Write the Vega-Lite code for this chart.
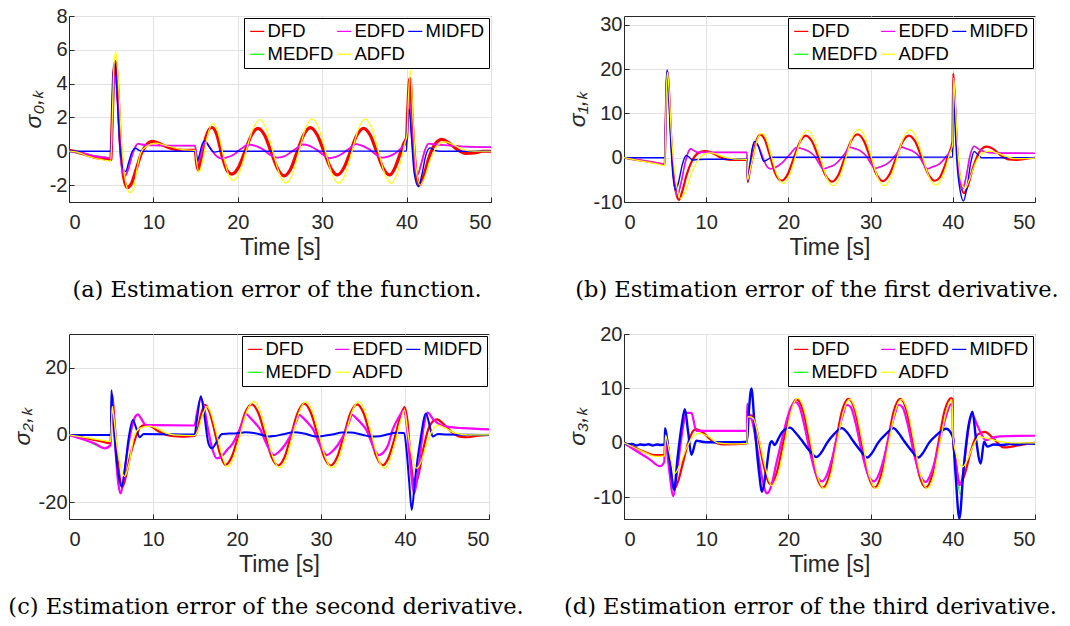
{
"$schema": "https://vega.github.io/schema/vega-lite/v6.json",
"padding": {"left": 7, "top": 5, "right": 5, "bottom": 5},
"background": "white",
"config": {
  "view": {"stroke": "#262626", "strokeWidth": 1},
  "axis": {"grid": true, "gridColor": "#e2e2e2", "domainColor": "#262626", "tickColor": "#262626", "tickSize": -5, "labelFont": "Liberation Sans", "labelFontSize": 20, "labelColor": "#262626", "titleFont": "Liberation Sans", "titleFontSize": 23, "titleFontWeight": "normal", "titleColor": "#262626", "labelExpr": "replace(datum.label, '−', '-')"},
  "axisX": {"labelPadding": 15, "titlePadding": 4},
  "axisY": {"labelPadding": 7, "titlePadding": 4, "titleFontStyle": "italic"},
  "legend": {"orient": "top-right", "offset": 2, "columns": 3, "strokeColor": "#000000", "fillColor": "white", "padding": 4, "symbolType": "stroke", "symbolSize": 200, "symbolStrokeWidth": 1.2, "labelFont": "Liberation Sans", "labelFontSize": 18.5, "labelColor": "#000000", "labelOffset": 1, "columnPadding": 0, "rowPadding": 4, "cornerRadius": 0},
  "title": {"font": "DejaVu Serif", "fontSize": 22.5, "fontWeight": "normal", "color": "#000000", "orient": "bottom", "anchor": "middle", "frame": "group", "offset": 20}
},
"datasets": {
"a": [
{"s":"DFD","t":0,"v":0.05},{"s":"DFD","t":1,"v":-0.05},{"s":"DFD","t":2,"v":-0.2},{"s":"DFD","t":3,"v":-0.35},{"s":"DFD","t":4,"v":-0.42},{"s":"DFD","t":4.95,"v":-0.5},{"s":"DFD","t":5.1,"v":1.5},{"s":"DFD","t":5.3,"v":4.6},{"s":"DFD","t":5.5,"v":5.3},{"s":"DFD","t":5.75,"v":4.0},{"s":"DFD","t":6.1,"v":0.5},{"s":"DFD","t":6.5,"v":-1.6},{"s":"DFD","t":6.9,"v":-2.15},{"s":"DFD","t":7.4,"v":-1.9},{"s":"DFD","t":8.0,"v":-1.0},{"s":"DFD","t":8.6,"v":-0.1},{"s":"DFD","t":9.2,"v":0.4},{"s":"DFD","t":9.8,"v":0.58},{"s":"DFD","t":10.5,"v":0.5},{"s":"DFD","t":11.5,"v":0.28},{"s":"DFD","t":12.5,"v":0.12},{"s":"DFD","t":13.5,"v":0.05},{"s":"DFD","t":14.95,"v":0.05},{"s":"DFD","t":15.1,"v":-0.6},{"s":"DFD","t":15.3,"v":-1.1},{"s":"DFD","t":15.6,"v":-0.6},{"s":"DFD","t":16.2,"v":0.8},{"s":"DFD","t":16.9,"v":1.42},{"s":"DFD","t":17.5,"v":1.0},{"s":"DFD","t":18.2,"v":-0.4},{"s":"DFD","t":18.8,"v":-1.2},{"s":"DFD","t":19.3,"v":-1.35},{"s":"DFD","t":20.08,"v":-0.95},{"s":"DFD","t":20.85,"v":0},{"s":"DFD","t":21.62,"v":0.95},{"s":"DFD","t":22.4,"v":1.36},{"s":"DFD","t":23.18,"v":0.95},{"s":"DFD","t":23.95,"v":-0.05},{"s":"DFD","t":24.72,"v":-1.03},{"s":"DFD","t":25.5,"v":-1.45},{"s":"DFD","t":26.28,"v":-1.03},{"s":"DFD","t":27.05,"v":0},{"s":"DFD","t":27.82,"v":0.98},{"s":"DFD","t":28.6,"v":1.4},{"s":"DFD","t":29.4,"v":0.98},{"s":"DFD","t":30.2,"v":0},{"s":"DFD","t":31.0,"v":-0.98},{"s":"DFD","t":31.8,"v":-1.4},{"s":"DFD","t":32.58,"v":-0.98},{"s":"DFD","t":33.35,"v":0},{"s":"DFD","t":34.12,"v":0.96},{"s":"DFD","t":34.9,"v":1.36},{"s":"DFD","t":35.68,"v":0.96},{"s":"DFD","t":36.45,"v":-0.02},{"s":"DFD","t":37.22,"v":-1.0},{"s":"DFD","t":38.0,"v":-1.4},{"s":"DFD","t":38.6,"v":-1.0},{"s":"DFD","t":39.2,"v":-0.2},{"s":"DFD","t":39.7,"v":0.5},{"s":"DFD","t":40.0,"v":0.8},{"s":"DFD","t":40.1,"v":2.0},{"s":"DFD","t":40.4,"v":4.3},{"s":"DFD","t":40.7,"v":1.5},{"s":"DFD","t":41.1,"v":-1.2},{"s":"DFD","t":41.5,"v":-2.0},{"s":"DFD","t":42.0,"v":-1.5},{"s":"DFD","t":42.7,"v":-0.3},{"s":"DFD","t":43.4,"v":0.45},{"s":"DFD","t":44.2,"v":0.7},{"s":"DFD","t":45.0,"v":0.5},{"s":"DFD","t":46.0,"v":0.1},{"s":"DFD","t":47.0,"v":-0.12},{"s":"DFD","t":48.0,"v":-0.1},{"s":"DFD","t":49.0,"v":0},{"s":"DFD","t":50,"v":0},
{"s":"MEDFD","t":0,"v":0},{"s":"MEDFD","t":2,"v":-0.17},{"s":"MEDFD","t":4,"v":-0.33},{"s":"MEDFD","t":4.95,"v":-0.38},{"s":"MEDFD","t":5.1,"v":1.2},{"s":"MEDFD","t":5.3,"v":3.8},{"s":"MEDFD","t":5.5,"v":4.5},{"s":"MEDFD","t":5.75,"v":3.0},{"s":"MEDFD","t":6.1,"v":-0.3},{"s":"MEDFD","t":6.6,"v":-1.45},{"s":"MEDFD","t":7.0,"v":-1.1},{"s":"MEDFD","t":7.5,"v":-0.2},{"s":"MEDFD","t":7.9,"v":0.3},{"s":"MEDFD","t":8.2,"v":0.44},{"s":"MEDFD","t":8.6,"v":0.39},{"s":"MEDFD","t":10,"v":0.34},{"s":"MEDFD","t":14.95,"v":0.32},{"s":"MEDFD","t":15.1,"v":-0.3},{"s":"MEDFD","t":15.25,"v":-0.7},{"s":"MEDFD","t":15.5,"v":-0.4},{"s":"MEDFD","t":15.9,"v":0.3},{"s":"MEDFD","t":16.2,"v":0.54},{"s":"MEDFD","t":16.6,"v":0.3},{"s":"MEDFD","t":17.3,"v":-0.2},{"s":"MEDFD","t":18.0,"v":-0.42},{"s":"MEDFD","t":18.6,"v":-0.38},{"s":"MEDFD","t":19.5,"v":-0.2},{"s":"MEDFD","t":20.4,"v":0.15},{"s":"MEDFD","t":21.3,"v":0.4},{"s":"MEDFD","t":22.2,"v":0.3},{"s":"MEDFD","t":23.0,"v":0.1},{"s":"MEDFD","t":23.8,"v":-0.2},{"s":"MEDFD","t":24.6,"v":-0.38},{"s":"MEDFD","t":25.5,"v":-0.3},{"s":"MEDFD","t":26.3,"v":-0.05},{"s":"MEDFD","t":27.0,"v":0.2},{"s":"MEDFD","t":27.7,"v":0.4},{"s":"MEDFD","t":28.5,"v":0.32},{"s":"MEDFD","t":29.3,"v":0.1},{"s":"MEDFD","t":30.1,"v":-0.2},{"s":"MEDFD","t":30.9,"v":-0.4},{"s":"MEDFD","t":31.7,"v":-0.32},{"s":"MEDFD","t":32.5,"v":-0.1},{"s":"MEDFD","t":33.3,"v":0.2},{"s":"MEDFD","t":34.0,"v":0.42},{"s":"MEDFD","t":34.8,"v":0.32},{"s":"MEDFD","t":35.6,"v":0.1},{"s":"MEDFD","t":36.4,"v":-0.2},{"s":"MEDFD","t":37.1,"v":-0.38},{"s":"MEDFD","t":37.9,"v":-0.3},{"s":"MEDFD","t":38.7,"v":-0.1},{"s":"MEDFD","t":39.4,"v":0.2},{"s":"MEDFD","t":39.95,"v":0.5},{"s":"MEDFD","t":40.1,"v":1.2},{"s":"MEDFD","t":40.3,"v":3.2},{"s":"MEDFD","t":40.55,"v":1.5},{"s":"MEDFD","t":40.9,"v":-0.8},{"s":"MEDFD","t":41.3,"v":-1.35},{"s":"MEDFD","t":41.7,"v":-0.8},{"s":"MEDFD","t":42.2,"v":0.1},{"s":"MEDFD","t":42.6,"v":0.44},{"s":"MEDFD","t":43.5,"v":0.4},{"s":"MEDFD","t":45,"v":0.34},{"s":"MEDFD","t":47,"v":0.27},{"s":"MEDFD","t":50,"v":0.24},
{"s":"EDFD","t":0,"v":0},{"s":"EDFD","t":1,"v":-0.05},{"s":"EDFD","t":2,"v":-0.15},{"s":"EDFD","t":3,"v":-0.28},{"s":"EDFD","t":4,"v":-0.35},{"s":"EDFD","t":4.95,"v":-0.4},{"s":"EDFD","t":5.1,"v":1.2},{"s":"EDFD","t":5.3,"v":3.8},{"s":"EDFD","t":5.5,"v":4.5},{"s":"EDFD","t":5.75,"v":3.0},{"s":"EDFD","t":6.1,"v":-0.3},{"s":"EDFD","t":6.6,"v":-1.5},{"s":"EDFD","t":7.0,"v":-1.1},{"s":"EDFD","t":7.5,"v":-0.2},{"s":"EDFD","t":7.9,"v":0.3},{"s":"EDFD","t":8.2,"v":0.45},{"s":"EDFD","t":8.6,"v":0.4},{"s":"EDFD","t":10,"v":0.35},{"s":"EDFD","t":12,"v":0.33},{"s":"EDFD","t":14.95,"v":0.33},{"s":"EDFD","t":15.1,"v":-0.3},{"s":"EDFD","t":15.25,"v":-0.7},{"s":"EDFD","t":15.5,"v":-0.4},{"s":"EDFD","t":15.9,"v":0.3},{"s":"EDFD","t":16.2,"v":0.55},{"s":"EDFD","t":16.6,"v":0.3},{"s":"EDFD","t":17.3,"v":-0.2},{"s":"EDFD","t":18.0,"v":-0.42},{"s":"EDFD","t":18.6,"v":-0.38},{"s":"EDFD","t":19.5,"v":-0.2},{"s":"EDFD","t":20.4,"v":0.15},{"s":"EDFD","t":21.3,"v":0.4},{"s":"EDFD","t":22.2,"v":0.3},{"s":"EDFD","t":23.0,"v":0.1},{"s":"EDFD","t":23.8,"v":-0.2},{"s":"EDFD","t":24.6,"v":-0.38},{"s":"EDFD","t":25.5,"v":-0.3},{"s":"EDFD","t":26.3,"v":-0.05},{"s":"EDFD","t":27.0,"v":0.2},{"s":"EDFD","t":27.7,"v":0.4},{"s":"EDFD","t":28.5,"v":0.32},{"s":"EDFD","t":29.3,"v":0.1},{"s":"EDFD","t":30.1,"v":-0.2},{"s":"EDFD","t":30.9,"v":-0.4},{"s":"EDFD","t":31.7,"v":-0.32},{"s":"EDFD","t":32.5,"v":-0.1},{"s":"EDFD","t":33.3,"v":0.2},{"s":"EDFD","t":34.0,"v":0.42},{"s":"EDFD","t":34.8,"v":0.32},{"s":"EDFD","t":35.6,"v":0.1},{"s":"EDFD","t":36.4,"v":-0.2},{"s":"EDFD","t":37.1,"v":-0.38},{"s":"EDFD","t":37.9,"v":-0.3},{"s":"EDFD","t":38.7,"v":-0.1},{"s":"EDFD","t":39.4,"v":0.2},{"s":"EDFD","t":39.95,"v":0.5},{"s":"EDFD","t":40.1,"v":1.2},{"s":"EDFD","t":40.3,"v":3.3},{"s":"EDFD","t":40.55,"v":1.5},{"s":"EDFD","t":40.9,"v":-0.8},{"s":"EDFD","t":41.3,"v":-1.4},{"s":"EDFD","t":41.7,"v":-0.8},{"s":"EDFD","t":42.2,"v":0.1},{"s":"EDFD","t":42.6,"v":0.45},{"s":"EDFD","t":43.5,"v":0.4},{"s":"EDFD","t":45,"v":0.35},{"s":"EDFD","t":47,"v":0.28},{"s":"EDFD","t":50,"v":0.25},
{"s":"MIDFD","t":0,"v":0},{"s":"MIDFD","t":4.98,"v":0},{"s":"MIDFD","t":5.1,"v":2.5},{"s":"MIDFD","t":5.3,"v":4.9},{"s":"MIDFD","t":5.45,"v":5.2},{"s":"MIDFD","t":5.65,"v":3.8},{"s":"MIDFD","t":6.0,"v":0.5},{"s":"MIDFD","t":6.4,"v":-1.0},{"s":"MIDFD","t":6.7,"v":-1.2},{"s":"MIDFD","t":7.1,"v":-0.6},{"s":"MIDFD","t":7.5,"v":0},{"s":"MIDFD","t":7.9,"v":0.18},{"s":"MIDFD","t":8.3,"v":0.05},{"s":"MIDFD","t":8.8,"v":0},{"s":"MIDFD","t":14.98,"v":0},{"s":"MIDFD","t":15.1,"v":-0.3},{"s":"MIDFD","t":15.2,"v":-0.6},{"s":"MIDFD","t":15.4,"v":-0.3},{"s":"MIDFD","t":15.8,"v":0.45},{"s":"MIDFD","t":16.1,"v":0.62},{"s":"MIDFD","t":16.5,"v":0.35},{"s":"MIDFD","t":17.0,"v":0},{"s":"MIDFD","t":17.3,"v":-0.05},{"s":"MIDFD","t":17.8,"v":0},{"s":"MIDFD","t":39.98,"v":0.02},{"s":"MIDFD","t":40.1,"v":1.5},{"s":"MIDFD","t":40.3,"v":2.5},{"s":"MIDFD","t":40.55,"v":1.0},{"s":"MIDFD","t":40.9,"v":-1.3},{"s":"MIDFD","t":41.4,"v":-2.1},{"s":"MIDFD","t":41.8,"v":-1.4},{"s":"MIDFD","t":42.3,"v":-0.2},{"s":"MIDFD","t":42.8,"v":0.2},{"s":"MIDFD","t":43.3,"v":0.05},{"s":"MIDFD","t":44,"v":0},{"s":"MIDFD","t":50,"v":0},
{"s":"ADFD","t":0,"v":0},{"s":"ADFD","t":1,"v":-0.05},{"s":"ADFD","t":2,"v":-0.25},{"s":"ADFD","t":3,"v":-0.4},{"s":"ADFD","t":4,"v":-0.5},{"s":"ADFD","t":4.95,"v":-0.58},{"s":"ADFD","t":5.1,"v":1.5},{"s":"ADFD","t":5.3,"v":4.8},{"s":"ADFD","t":5.55,"v":5.9},{"s":"ADFD","t":5.8,"v":4.5},{"s":"ADFD","t":6.2,"v":0.8},{"s":"ADFD","t":6.7,"v":-1.8},{"s":"ADFD","t":7.2,"v":-2.45},{"s":"ADFD","t":7.7,"v":-2.1},{"s":"ADFD","t":8.0,"v":-1.2},{"s":"ADFD","t":8.5,"v":-0.1},{"s":"ADFD","t":9.2,"v":0.3},{"s":"ADFD","t":10.3,"v":0.48},{"s":"ADFD","t":11.2,"v":0.38},{"s":"ADFD","t":11.9,"v":0.28},{"s":"ADFD","t":13.4,"v":0.1},{"s":"ADFD","t":14.95,"v":0.05},{"s":"ADFD","t":15.1,"v":-0.5},{"s":"ADFD","t":15.4,"v":-1.25},{"s":"ADFD","t":15.8,"v":-0.6},{"s":"ADFD","t":16.4,"v":0.9},{"s":"ADFD","t":17.0,"v":1.65},{"s":"ADFD","t":17.6,"v":1.2},{"s":"ADFD","t":18.4,"v":-0.5},{"s":"ADFD","t":19.0,"v":-1.5},{"s":"ADFD","t":19.45,"v":-1.72},{"s":"ADFD","t":20.24,"v":-1.2},{"s":"ADFD","t":21.02,"v":0.08},{"s":"ADFD","t":21.81,"v":1.33},{"s":"ADFD","t":22.6,"v":1.88},{"s":"ADFD","t":23.38,"v":1.33},{"s":"ADFD","t":24.15,"v":0},{"s":"ADFD","t":24.93,"v":-1.33},{"s":"ADFD","t":25.7,"v":-1.88},{"s":"ADFD","t":26.48,"v":-1.33},{"s":"ADFD","t":27.25,"v":0.02},{"s":"ADFD","t":28.03,"v":1.36},{"s":"ADFD","t":28.8,"v":1.92},{"s":"ADFD","t":29.59,"v":1.36},{"s":"ADFD","t":30.38,"v":0},{"s":"ADFD","t":31.16,"v":-1.35},{"s":"ADFD","t":31.95,"v":-1.9},{"s":"ADFD","t":32.74,"v":-1.35},{"s":"ADFD","t":33.53,"v":0},{"s":"ADFD","t":34.31,"v":1.35},{"s":"ADFD","t":35.1,"v":1.9},{"s":"ADFD","t":35.88,"v":1.35},{"s":"ADFD","t":36.65,"v":0},{"s":"ADFD","t":37.43,"v":-1.35},{"s":"ADFD","t":38.2,"v":-1.9},{"s":"ADFD","t":38.8,"v":-1.4},{"s":"ADFD","t":39.4,"v":-0.4},{"s":"ADFD","t":39.8,"v":0.5},{"s":"ADFD","t":40.05,"v":1.0},{"s":"ADFD","t":40.2,"v":3.0},{"s":"ADFD","t":40.45,"v":4.8},{"s":"ADFD","t":40.75,"v":2.0},{"s":"ADFD","t":41.1,"v":-0.9},{"s":"ADFD","t":41.6,"v":-2.0},{"s":"ADFD","t":42.1,"v":-1.6},{"s":"ADFD","t":42.8,"v":-0.5},{"s":"ADFD","t":43.6,"v":0.3},{"s":"ADFD","t":44.6,"v":0.55},{"s":"ADFD","t":45.5,"v":0.4},{"s":"ADFD","t":46.5,"v":0.15},{"s":"ADFD","t":48,"v":0},{"s":"ADFD","t":50,"v":0}
],
"b": [
{"s":"DFD","t":0,"v":0},{"s":"DFD","t":1,"v":-0.3},{"s":"DFD","t":2,"v":-0.6},{"s":"DFD","t":3,"v":-0.9},{"s":"DFD","t":4,"v":-1.2},{"s":"DFD","t":4.95,"v":-1.5},{"s":"DFD","t":5.05,"v":6},{"s":"DFD","t":5.15,"v":15},{"s":"DFD","t":5.3,"v":19.5},{"s":"DFD","t":5.45,"v":16},{"s":"DFD","t":5.7,"v":6},{"s":"DFD","t":6.0,"v":-3},{"s":"DFD","t":6.35,"v":-8},{"s":"DFD","t":6.7,"v":-9.5},{"s":"DFD","t":7.1,"v":-7.5},{"s":"DFD","t":7.6,"v":-4},{"s":"DFD","t":8.2,"v":-1.0},{"s":"DFD","t":9.0,"v":1.0},{"s":"DFD","t":9.8,"v":1.5},{"s":"DFD","t":10.6,"v":1.2},{"s":"DFD","t":11.5,"v":0.3},{"s":"DFD","t":12.3,"v":-0.3},{"s":"DFD","t":13.5,"v":-0.5},{"s":"DFD","t":14.95,"v":-0.5},{"s":"DFD","t":15.05,"v":-5.5},{"s":"DFD","t":15.3,"v":-3},{"s":"DFD","t":15.7,"v":0.5},{"s":"DFD","t":16.1,"v":3.8},{"s":"DFD","t":16.6,"v":5.2},{"s":"DFD","t":17.1,"v":4.2},{"s":"DFD","t":17.7,"v":0.8},{"s":"DFD","t":18.4,"v":-3.5},{"s":"DFD","t":19.2,"v":-5.2},{"s":"DFD","t":19.93,"v":-3.7},{"s":"DFD","t":20.65,"v":-0.1},{"s":"DFD","t":21.38,"v":3.5},{"s":"DFD","t":22.1,"v":5.0},{"s":"DFD","t":22.9,"v":3.6},{"s":"DFD","t":23.7,"v":-0.2},{"s":"DFD","t":24.5,"v":-3.9},{"s":"DFD","t":25.3,"v":-5.4},{"s":"DFD","t":26.08,"v":-3.9},{"s":"DFD","t":26.85,"v":-0.05},{"s":"DFD","t":27.63,"v":3.8},{"s":"DFD","t":28.4,"v":5.3},{"s":"DFD","t":29.18,"v":3.8},{"s":"DFD","t":29.95,"v":0},{"s":"DFD","t":30.73,"v":-3.8},{"s":"DFD","t":31.5,"v":-5.3},{"s":"DFD","t":32.29,"v":-3.8},{"s":"DFD","t":33.08,"v":-0.15},{"s":"DFD","t":33.86,"v":3.5},{"s":"DFD","t":34.65,"v":5.0},{"s":"DFD","t":35.44,"v":3.6},{"s":"DFD","t":36.23,"v":-0.1},{"s":"DFD","t":37.01,"v":-3.7},{"s":"DFD","t":37.8,"v":-5.2},{"s":"DFD","t":38.4,"v":-4.5},{"s":"DFD","t":39.0,"v":-2.0},{"s":"DFD","t":39.5,"v":0.8},{"s":"DFD","t":39.95,"v":3.5},{"s":"DFD","t":40.05,"v":19},{"s":"DFD","t":40.2,"v":15},{"s":"DFD","t":40.5,"v":3},{"s":"DFD","t":40.9,"v":-5},{"s":"DFD","t":41.35,"v":-8},{"s":"DFD","t":41.8,"v":-6.5},{"s":"DFD","t":42.5,"v":-2},{"s":"DFD","t":43.3,"v":1.5},{"s":"DFD","t":44.1,"v":2.5},{"s":"DFD","t":44.9,"v":2.0},{"s":"DFD","t":45.8,"v":0.6},{"s":"DFD","t":46.8,"v":-0.4},{"s":"DFD","t":47.8,"v":-0.5},{"s":"DFD","t":49,"v":-0.2},{"s":"DFD","t":50,"v":0},
{"s":"MEDFD","t":0,"v":0},{"s":"MEDFD","t":2,"v":-0.6},{"s":"MEDFD","t":4,"v":-1.2},{"s":"MEDFD","t":4.95,"v":-1.5},{"s":"MEDFD","t":5.05,"v":6},{"s":"MEDFD","t":5.15,"v":14},{"s":"MEDFD","t":5.3,"v":19},{"s":"MEDFD","t":5.45,"v":15},{"s":"MEDFD","t":5.8,"v":2},{"s":"MEDFD","t":6.2,"v":-7},{"s":"MEDFD","t":6.5,"v":-8.5},{"s":"MEDFD","t":6.9,"v":-6},{"s":"MEDFD","t":7.4,"v":-1.5},{"s":"MEDFD","t":7.8,"v":1.2},{"s":"MEDFD","t":8.1,"v":2.0},{"s":"MEDFD","t":8.5,"v":1.6},{"s":"MEDFD","t":9.0,"v":1.2},{"s":"MEDFD","t":14.95,"v":1.2},{"s":"MEDFD","t":15.05,"v":-5.3},{"s":"MEDFD","t":15.3,"v":-2},{"s":"MEDFD","t":15.6,"v":1.8},{"s":"MEDFD","t":15.9,"v":3.6},{"s":"MEDFD","t":16.3,"v":2.8},{"s":"MEDFD","t":16.9,"v":0},{"s":"MEDFD","t":17.4,"v":-2.0},{"s":"MEDFD","t":17.8,"v":-2.5},{"s":"MEDFD","t":18.4,"v":-2.2},{"s":"MEDFD","t":19.2,"v":-1.2},{"s":"MEDFD","t":20.2,"v":0.8},{"s":"MEDFD","t":21.0,"v":2.3},{"s":"MEDFD","t":21.7,"v":2.0},{"s":"MEDFD","t":22.5,"v":1.4},{"s":"MEDFD","t":23.2,"v":0.3},{"s":"MEDFD","t":23.7,"v":-1.2},{"s":"MEDFD","t":24.2,"v":-2.5},{"s":"MEDFD","t":24.8,"v":-2.2},{"s":"MEDFD","t":25.6,"v":-1.6},{"s":"MEDFD","t":26.3,"v":-0.4},{"s":"MEDFD","t":26.9,"v":1.0},{"s":"MEDFD","t":27.4,"v":2.4},{"s":"MEDFD","t":28.0,"v":2.1},{"s":"MEDFD","t":28.8,"v":1.5},{"s":"MEDFD","t":29.5,"v":0.3},{"s":"MEDFD","t":30.0,"v":-1.2},{"s":"MEDFD","t":30.5,"v":-2.4},{"s":"MEDFD","t":31.1,"v":-2.1},{"s":"MEDFD","t":31.9,"v":-1.5},{"s":"MEDFD","t":32.6,"v":-0.4},{"s":"MEDFD","t":33.2,"v":1.0},{"s":"MEDFD","t":33.8,"v":2.4},{"s":"MEDFD","t":34.4,"v":2.0},{"s":"MEDFD","t":35.2,"v":1.4},{"s":"MEDFD","t":35.9,"v":0.3},{"s":"MEDFD","t":36.4,"v":-1.3},{"s":"MEDFD","t":36.9,"v":-2.5},{"s":"MEDFD","t":37.5,"v":-2.1},{"s":"MEDFD","t":38.3,"v":-1.5},{"s":"MEDFD","t":39.0,"v":-0.2},{"s":"MEDFD","t":39.6,"v":1.2},{"s":"MEDFD","t":39.98,"v":2.0},{"s":"MEDFD","t":40.08,"v":18},{"s":"MEDFD","t":40.25,"v":13},{"s":"MEDFD","t":40.55,"v":2},{"s":"MEDFD","t":40.9,"v":-5.5},{"s":"MEDFD","t":41.2,"v":-7},{"s":"MEDFD","t":41.6,"v":-4.5},{"s":"MEDFD","t":42.1,"v":0.5},{"s":"MEDFD","t":42.6,"v":2.6},{"s":"MEDFD","t":43.1,"v":2.0},{"s":"MEDFD","t":44,"v":1.3},{"s":"MEDFD","t":45,"v":1.1},{"s":"MEDFD","t":50,"v":1.0},
{"s":"EDFD","t":0,"v":0},{"s":"EDFD","t":2,"v":-0.6},{"s":"EDFD","t":4,"v":-1.2},{"s":"EDFD","t":4.95,"v":-1.5},{"s":"EDFD","t":5.05,"v":6},{"s":"EDFD","t":5.15,"v":14},{"s":"EDFD","t":5.3,"v":19},{"s":"EDFD","t":5.45,"v":15},{"s":"EDFD","t":5.8,"v":2},{"s":"EDFD","t":6.2,"v":-7},{"s":"EDFD","t":6.5,"v":-8.5},{"s":"EDFD","t":6.9,"v":-6},{"s":"EDFD","t":7.4,"v":-1.5},{"s":"EDFD","t":7.8,"v":1.2},{"s":"EDFD","t":8.1,"v":2.0},{"s":"EDFD","t":8.5,"v":1.6},{"s":"EDFD","t":9.0,"v":1.2},{"s":"EDFD","t":10,"v":1.2},{"s":"EDFD","t":14.95,"v":1.2},{"s":"EDFD","t":15.05,"v":-5.3},{"s":"EDFD","t":15.3,"v":-2},{"s":"EDFD","t":15.6,"v":1.8},{"s":"EDFD","t":15.9,"v":3.6},{"s":"EDFD","t":16.3,"v":2.8},{"s":"EDFD","t":16.9,"v":0},{"s":"EDFD","t":17.4,"v":-2.0},{"s":"EDFD","t":17.8,"v":-2.5},{"s":"EDFD","t":18.4,"v":-2.2},{"s":"EDFD","t":19.2,"v":-1.2},{"s":"EDFD","t":20.2,"v":0.8},{"s":"EDFD","t":21.0,"v":2.3},{"s":"EDFD","t":21.7,"v":2.0},{"s":"EDFD","t":22.5,"v":1.4},{"s":"EDFD","t":23.2,"v":0.3},{"s":"EDFD","t":23.7,"v":-1.2},{"s":"EDFD","t":24.2,"v":-2.5},{"s":"EDFD","t":24.8,"v":-2.2},{"s":"EDFD","t":25.6,"v":-1.6},{"s":"EDFD","t":26.3,"v":-0.4},{"s":"EDFD","t":26.9,"v":1.0},{"s":"EDFD","t":27.4,"v":2.4},{"s":"EDFD","t":28.0,"v":2.1},{"s":"EDFD","t":28.8,"v":1.5},{"s":"EDFD","t":29.5,"v":0.3},{"s":"EDFD","t":30.0,"v":-1.2},{"s":"EDFD","t":30.5,"v":-2.4},{"s":"EDFD","t":31.1,"v":-2.1},{"s":"EDFD","t":31.9,"v":-1.5},{"s":"EDFD","t":32.6,"v":-0.4},{"s":"EDFD","t":33.2,"v":1.0},{"s":"EDFD","t":33.8,"v":2.4},{"s":"EDFD","t":34.4,"v":2.0},{"s":"EDFD","t":35.2,"v":1.4},{"s":"EDFD","t":35.9,"v":0.3},{"s":"EDFD","t":36.4,"v":-1.3},{"s":"EDFD","t":36.9,"v":-2.5},{"s":"EDFD","t":37.5,"v":-2.1},{"s":"EDFD","t":38.3,"v":-1.5},{"s":"EDFD","t":39.0,"v":-0.2},{"s":"EDFD","t":39.6,"v":1.2},{"s":"EDFD","t":39.98,"v":2.0},{"s":"EDFD","t":40.08,"v":18},{"s":"EDFD","t":40.25,"v":13},{"s":"EDFD","t":40.55,"v":2},{"s":"EDFD","t":40.9,"v":-5.5},{"s":"EDFD","t":41.2,"v":-7},{"s":"EDFD","t":41.6,"v":-4.5},{"s":"EDFD","t":42.1,"v":0.5},{"s":"EDFD","t":42.6,"v":2.6},{"s":"EDFD","t":43.1,"v":2.0},{"s":"EDFD","t":44,"v":1.3},{"s":"EDFD","t":45,"v":1.1},{"s":"EDFD","t":50,"v":1.0},
{"s":"MIDFD","t":0,"v":0},{"s":"MIDFD","t":4.98,"v":0},{"s":"MIDFD","t":5.05,"v":8},{"s":"MIDFD","t":5.15,"v":17},{"s":"MIDFD","t":5.25,"v":19.8},{"s":"MIDFD","t":5.4,"v":16},{"s":"MIDFD","t":5.65,"v":5},{"s":"MIDFD","t":5.95,"v":-4},{"s":"MIDFD","t":6.3,"v":-7.3},{"s":"MIDFD","t":6.7,"v":-5},{"s":"MIDFD","t":7.1,"v":-1.5},{"s":"MIDFD","t":7.6,"v":0.5},{"s":"MIDFD","t":8.0,"v":0},{"s":"MIDFD","t":8.3,"v":-0.5},{"s":"MIDFD","t":9,"v":-0.4},{"s":"MIDFD","t":10,"v":-0.35},{"s":"MIDFD","t":14.95,"v":-0.35},{"s":"MIDFD","t":15.05,"v":-5.3},{"s":"MIDFD","t":15.3,"v":-2},{"s":"MIDFD","t":15.6,"v":2},{"s":"MIDFD","t":15.9,"v":3.7},{"s":"MIDFD","t":16.3,"v":2.8},{"s":"MIDFD","t":16.7,"v":0.5},{"s":"MIDFD","t":17.0,"v":-0.8},{"s":"MIDFD","t":17.4,"v":-0.5},{"s":"MIDFD","t":18,"v":0.1},{"s":"MIDFD","t":25,"v":0.1},{"s":"MIDFD","t":39.98,"v":0.15},{"s":"MIDFD","t":40.05,"v":15},{"s":"MIDFD","t":40.2,"v":10},{"s":"MIDFD","t":40.5,"v":-1},{"s":"MIDFD","t":40.9,"v":-7.5},{"s":"MIDFD","t":41.3,"v":-9.8},{"s":"MIDFD","t":41.7,"v":-7},{"s":"MIDFD","t":42.2,"v":-1},{"s":"MIDFD","t":42.6,"v":1.4},{"s":"MIDFD","t":43.0,"v":0.8},{"s":"MIDFD","t":43.5,"v":0},{"s":"MIDFD","t":50,"v":0},
{"s":"ADFD","t":0,"v":0},{"s":"ADFD","t":2,"v":-0.7},{"s":"ADFD","t":4,"v":-1.4},{"s":"ADFD","t":4.95,"v":-1.8},{"s":"ADFD","t":5.05,"v":6},{"s":"ADFD","t":5.15,"v":15},{"s":"ADFD","t":5.3,"v":19.3},{"s":"ADFD","t":5.45,"v":16},{"s":"ADFD","t":5.8,"v":4},{"s":"ADFD","t":6.3,"v":-5},{"s":"ADFD","t":6.9,"v":-9.2},{"s":"ADFD","t":7.5,"v":-7.5},{"s":"ADFD","t":8.2,"v":-3.5},{"s":"ADFD","t":9.0,"v":-0.5},{"s":"ADFD","t":9.8,"v":0.8},{"s":"ADFD","t":10.6,"v":1.1},{"s":"ADFD","t":11.5,"v":0.6},{"s":"ADFD","t":12.5,"v":0},{"s":"ADFD","t":13.5,"v":-0.3},{"s":"ADFD","t":14.95,"v":-0.4},{"s":"ADFD","t":15.05,"v":-5.0},{"s":"ADFD","t":15.3,"v":-3},{"s":"ADFD","t":15.8,"v":1.0},{"s":"ADFD","t":16.2,"v":4.0},{"s":"ADFD","t":16.75,"v":5.5},{"s":"ADFD","t":17.3,"v":4.3},{"s":"ADFD","t":17.9,"v":0.5},{"s":"ADFD","t":18.6,"v":-3.8},{"s":"ADFD","t":19.4,"v":-5.8},{"s":"ADFD","t":20.13,"v":-4.0},{"s":"ADFD","t":20.85,"v":0.2},{"s":"ADFD","t":21.58,"v":4.4},{"s":"ADFD","t":22.3,"v":6.2},{"s":"ADFD","t":23.09,"v":4.4},{"s":"ADFD","t":23.88,"v":0},{"s":"ADFD","t":24.66,"v":-4.5},{"s":"ADFD","t":25.45,"v":-6.3},{"s":"ADFD","t":26.23,"v":-4.5},{"s":"ADFD","t":27.0,"v":0.05},{"s":"ADFD","t":27.78,"v":4.6},{"s":"ADFD","t":28.55,"v":6.4},{"s":"ADFD","t":29.33,"v":4.6},{"s":"ADFD","t":30.1,"v":0.05},{"s":"ADFD","t":30.88,"v":-4.5},{"s":"ADFD","t":31.65,"v":-6.3},{"s":"ADFD","t":32.44,"v":-4.5},{"s":"ADFD","t":33.23,"v":0},{"s":"ADFD","t":34.01,"v":4.5},{"s":"ADFD","t":34.8,"v":6.3},{"s":"ADFD","t":35.58,"v":4.5},{"s":"ADFD","t":36.35,"v":0.05},{"s":"ADFD","t":37.13,"v":-4.4},{"s":"ADFD","t":37.9,"v":-6.2},{"s":"ADFD","t":38.5,"v":-5.3},{"s":"ADFD","t":39.1,"v":-2.5},{"s":"ADFD","t":39.6,"v":0.8},{"s":"ADFD","t":39.98,"v":3.0},{"s":"ADFD","t":40.1,"v":18},{"s":"ADFD","t":40.25,"v":14},{"s":"ADFD","t":40.6,"v":2},{"s":"ADFD","t":41.0,"v":-5},{"s":"ADFD","t":41.5,"v":-7},{"s":"ADFD","t":42.0,"v":-5},{"s":"ADFD","t":42.8,"v":-1},{"s":"ADFD","t":43.6,"v":1.0},{"s":"ADFD","t":44.5,"v":1.5},{"s":"ADFD","t":45.5,"v":1.0},{"s":"ADFD","t":46.5,"v":0.3},{"s":"ADFD","t":47.5,"v":-0.2},{"s":"ADFD","t":49,"v":-0.2},{"s":"ADFD","t":50,"v":-0.1}
],
"c": [
{"s":"DFD","t":0,"v":0},{"s":"DFD","t":1,"v":-0.5},{"s":"DFD","t":2,"v":-1.0},{"s":"DFD","t":3,"v":-1.5},{"s":"DFD","t":4,"v":-2.0},{"s":"DFD","t":4.95,"v":-2.5},{"s":"DFD","t":5.05,"v":5},{"s":"DFD","t":5.15,"v":12},{"s":"DFD","t":5.3,"v":8},{"s":"DFD","t":5.6,"v":-2},{"s":"DFD","t":5.95,"v":-11},{"s":"DFD","t":6.35,"v":-15.5},{"s":"DFD","t":6.8,"v":-12},{"s":"DFD","t":7.3,"v":-6},{"s":"DFD","t":7.9,"v":-1},{"s":"DFD","t":8.5,"v":2.3},{"s":"DFD","t":9.0,"v":2.9},{"s":"DFD","t":9.8,"v":2.5},{"s":"DFD","t":10.7,"v":1.0},{"s":"DFD","t":11.6,"v":0},{"s":"DFD","t":12.5,"v":-0.4},{"s":"DFD","t":13.5,"v":-0.5},{"s":"DFD","t":14.95,"v":-0.3},{"s":"DFD","t":15.3,"v":1.5},{"s":"DFD","t":15.7,"v":6.0},{"s":"DFD","t":16.2,"v":8.9},{"s":"DFD","t":16.7,"v":7.0},{"s":"DFD","t":17.3,"v":1.5},{"s":"DFD","t":17.9,"v":-5},{"s":"DFD","t":18.6,"v":-8.9},{"s":"DFD","t":19.39,"v":-6.4},{"s":"DFD","t":20.18,"v":0},{"s":"DFD","t":20.96,"v":6.5},{"s":"DFD","t":21.75,"v":9.1},{"s":"DFD","t":22.54,"v":6.5},{"s":"DFD","t":23.33,"v":0},{"s":"DFD","t":24.11,"v":-6.5},{"s":"DFD","t":24.9,"v":-9.1},{"s":"DFD","t":25.68,"v":-6.5},{"s":"DFD","t":26.45,"v":0.1},{"s":"DFD","t":27.23,"v":6.6},{"s":"DFD","t":28.0,"v":9.3},{"s":"DFD","t":28.79,"v":6.6},{"s":"DFD","t":29.58,"v":0.1},{"s":"DFD","t":30.36,"v":-6.5},{"s":"DFD","t":31.15,"v":-9.1},{"s":"DFD","t":31.94,"v":-6.5},{"s":"DFD","t":32.73,"v":0},{"s":"DFD","t":33.51,"v":6.5},{"s":"DFD","t":34.3,"v":9.1},{"s":"DFD","t":35.06,"v":6.5},{"s":"DFD","t":35.83,"v":0.05},{"s":"DFD","t":36.59,"v":-6.4},{"s":"DFD","t":37.35,"v":-9.0},{"s":"DFD","t":38.0,"v":-7},{"s":"DFD","t":38.7,"v":-1.5},{"s":"DFD","t":39.4,"v":5.0},{"s":"DFD","t":39.95,"v":8.3},{"s":"DFD","t":40.3,"v":4},{"s":"DFD","t":40.7,"v":-8},{"s":"DFD","t":41.15,"v":-15},{"s":"DFD","t":41.6,"v":-12},{"s":"DFD","t":42.2,"v":-4},{"s":"DFD","t":42.9,"v":2.5},{"s":"DFD","t":43.8,"v":4.6},{"s":"DFD","t":44.6,"v":3.2},{"s":"DFD","t":45.5,"v":1.0},{"s":"DFD","t":46.5,"v":-0.5},{"s":"DFD","t":47.5,"v":-0.7},{"s":"DFD","t":48.5,"v":-0.3},{"s":"DFD","t":50,"v":0},
{"s":"MEDFD","t":0,"v":0},{"s":"MEDFD","t":2,"v":-1.6},{"s":"MEDFD","t":4.3,"v":-4.0},{"s":"MEDFD","t":4.95,"v":-3.0},{"s":"MEDFD","t":5.05,"v":5},{"s":"MEDFD","t":5.15,"v":11},{"s":"MEDFD","t":5.3,"v":6},{"s":"MEDFD","t":5.55,"v":-5},{"s":"MEDFD","t":5.85,"v":-14},{"s":"MEDFD","t":6.15,"v":-17.4},{"s":"MEDFD","t":6.5,"v":-13},{"s":"MEDFD","t":7.0,"v":-4},{"s":"MEDFD","t":7.5,"v":2.5},{"s":"MEDFD","t":7.9,"v":5.5},{"s":"MEDFD","t":8.2,"v":6.1},{"s":"MEDFD","t":8.6,"v":4.8},{"s":"MEDFD","t":9.1,"v":3.0},{"s":"MEDFD","t":14.95,"v":2.8},{"s":"MEDFD","t":15.2,"v":6},{"s":"MEDFD","t":15.7,"v":10.9},{"s":"MEDFD","t":16.1,"v":8},{"s":"MEDFD","t":16.6,"v":1},{"s":"MEDFD","t":17.1,"v":-4.5},{"s":"MEDFD","t":17.6,"v":-7.0},{"s":"MEDFD","t":18.2,"v":-6.3},{"s":"MEDFD","t":18.8,"v":-4.5},{"s":"MEDFD","t":19.5,"v":-2.5},{"s":"MEDFD","t":20.2,"v":1},{"s":"MEDFD","t":20.7,"v":4},{"s":"MEDFD","t":21.1,"v":6.2},{"s":"MEDFD","t":21.6,"v":5},{"s":"MEDFD","t":22.2,"v":3.4},{"s":"MEDFD","t":22.8,"v":1.5},{"s":"MEDFD","t":23.3,"v":-1.5},{"s":"MEDFD","t":23.9,"v":-4.5},{"s":"MEDFD","t":24.4,"v":-6.0},{"s":"MEDFD","t":25.0,"v":-5},{"s":"MEDFD","t":25.7,"v":-3},{"s":"MEDFD","t":26.3,"v":-0.5},{"s":"MEDFD","t":27.0,"v":3.5},{"s":"MEDFD","t":27.4,"v":6.0},{"s":"MEDFD","t":27.9,"v":5.0},{"s":"MEDFD","t":28.5,"v":3.4},{"s":"MEDFD","t":29.1,"v":1.5},{"s":"MEDFD","t":29.6,"v":-1.5},{"s":"MEDFD","t":30.2,"v":-4.5},{"s":"MEDFD","t":30.7,"v":-6.0},{"s":"MEDFD","t":31.3,"v":-5},{"s":"MEDFD","t":32.0,"v":-3},{"s":"MEDFD","t":32.6,"v":-0.5},{"s":"MEDFD","t":33.3,"v":3.5},{"s":"MEDFD","t":33.7,"v":6.0},{"s":"MEDFD","t":34.2,"v":5.0},{"s":"MEDFD","t":34.8,"v":3.4},{"s":"MEDFD","t":35.4,"v":1.5},{"s":"MEDFD","t":35.9,"v":-1.5},{"s":"MEDFD","t":36.4,"v":-4.5},{"s":"MEDFD","t":36.9,"v":-6.0},{"s":"MEDFD","t":37.5,"v":-5},{"s":"MEDFD","t":38.0,"v":-3},{"s":"MEDFD","t":38.5,"v":1.4},{"s":"MEDFD","t":39.2,"v":5},{"s":"MEDFD","t":39.9,"v":7.4},{"s":"MEDFD","t":40.2,"v":3},{"s":"MEDFD","t":40.6,"v":-8},{"s":"MEDFD","t":41.1,"v":-17},{"s":"MEDFD","t":41.6,"v":-10},{"s":"MEDFD","t":42.2,"v":2},{"s":"MEDFD","t":42.7,"v":6.6},{"s":"MEDFD","t":43.4,"v":4.5},{"s":"MEDFD","t":44.3,"v":2.9},{"s":"MEDFD","t":45.5,"v":2.3},{"s":"MEDFD","t":46.9,"v":2.0},{"s":"MEDFD","t":50,"v":1.65},
{"s":"EDFD","t":0,"v":0},{"s":"EDFD","t":1,"v":-0.8},{"s":"EDFD","t":2,"v":-1.6},{"s":"EDFD","t":3,"v":-2.5},{"s":"EDFD","t":4.3,"v":-4.0},{"s":"EDFD","t":4.95,"v":-3.0},{"s":"EDFD","t":5.05,"v":5},{"s":"EDFD","t":5.15,"v":11},{"s":"EDFD","t":5.3,"v":6},{"s":"EDFD","t":5.55,"v":-5},{"s":"EDFD","t":5.85,"v":-14},{"s":"EDFD","t":6.15,"v":-17.4},{"s":"EDFD","t":6.5,"v":-13},{"s":"EDFD","t":7.0,"v":-4},{"s":"EDFD","t":7.5,"v":2.5},{"s":"EDFD","t":7.9,"v":5.5},{"s":"EDFD","t":8.2,"v":6.1},{"s":"EDFD","t":8.6,"v":4.8},{"s":"EDFD","t":9.1,"v":3.0},{"s":"EDFD","t":10,"v":2.9},{"s":"EDFD","t":14.95,"v":2.8},{"s":"EDFD","t":15.2,"v":6},{"s":"EDFD","t":15.7,"v":10.9},{"s":"EDFD","t":16.1,"v":8},{"s":"EDFD","t":16.6,"v":1},{"s":"EDFD","t":17.1,"v":-4.5},{"s":"EDFD","t":17.6,"v":-7.0},{"s":"EDFD","t":18.2,"v":-6.3},{"s":"EDFD","t":18.8,"v":-4.5},{"s":"EDFD","t":19.5,"v":-2.5},{"s":"EDFD","t":20.2,"v":1},{"s":"EDFD","t":20.7,"v":4},{"s":"EDFD","t":21.1,"v":6.2},{"s":"EDFD","t":21.6,"v":5},{"s":"EDFD","t":22.2,"v":3.4},{"s":"EDFD","t":22.8,"v":1.5},{"s":"EDFD","t":23.3,"v":-1.5},{"s":"EDFD","t":23.9,"v":-4.5},{"s":"EDFD","t":24.4,"v":-6.0},{"s":"EDFD","t":25.0,"v":-5},{"s":"EDFD","t":25.7,"v":-3},{"s":"EDFD","t":26.3,"v":-0.5},{"s":"EDFD","t":27.0,"v":3.5},{"s":"EDFD","t":27.4,"v":6.0},{"s":"EDFD","t":27.9,"v":5.0},{"s":"EDFD","t":28.5,"v":3.4},{"s":"EDFD","t":29.1,"v":1.5},{"s":"EDFD","t":29.6,"v":-1.5},{"s":"EDFD","t":30.2,"v":-4.5},{"s":"EDFD","t":30.7,"v":-6.0},{"s":"EDFD","t":31.3,"v":-5},{"s":"EDFD","t":32.0,"v":-3},{"s":"EDFD","t":32.6,"v":-0.5},{"s":"EDFD","t":33.3,"v":3.5},{"s":"EDFD","t":33.7,"v":6.0},{"s":"EDFD","t":34.2,"v":5.0},{"s":"EDFD","t":34.8,"v":3.4},{"s":"EDFD","t":35.4,"v":1.5},{"s":"EDFD","t":35.9,"v":-1.5},{"s":"EDFD","t":36.4,"v":-4.5},{"s":"EDFD","t":36.9,"v":-6.0},{"s":"EDFD","t":37.5,"v":-5},{"s":"EDFD","t":38.0,"v":-3},{"s":"EDFD","t":38.5,"v":1.4},{"s":"EDFD","t":39.2,"v":5},{"s":"EDFD","t":39.9,"v":7.4},{"s":"EDFD","t":40.2,"v":3},{"s":"EDFD","t":40.6,"v":-8},{"s":"EDFD","t":41.1,"v":-17.4},{"s":"EDFD","t":41.6,"v":-10},{"s":"EDFD","t":42.2,"v":2},{"s":"EDFD","t":42.7,"v":6.6},{"s":"EDFD","t":43.4,"v":4.5},{"s":"EDFD","t":44.3,"v":2.9},{"s":"EDFD","t":45.5,"v":2.3},{"s":"EDFD","t":46.9,"v":2.0},{"s":"EDFD","t":50,"v":1.65},
{"s":"MIDFD","t":0,"v":0},{"s":"MIDFD","t":4.98,"v":0},{"s":"MIDFD","t":5.05,"v":13.3},{"s":"MIDFD","t":5.2,"v":8},{"s":"MIDFD","t":5.5,"v":-3},{"s":"MIDFD","t":5.9,"v":-12},{"s":"MIDFD","t":6.3,"v":-15.4},{"s":"MIDFD","t":6.7,"v":-9},{"s":"MIDFD","t":7.1,"v":-1},{"s":"MIDFD","t":7.6,"v":4.4},{"s":"MIDFD","t":8.0,"v":2},{"s":"MIDFD","t":8.4,"v":-0.7},{"s":"MIDFD","t":8.9,"v":0.25},{"s":"MIDFD","t":14.95,"v":0.1},{"s":"MIDFD","t":15.2,"v":4},{"s":"MIDFD","t":15.7,"v":11.5},{"s":"MIDFD","t":16.1,"v":6},{"s":"MIDFD","t":16.6,"v":-2.5},{"s":"MIDFD","t":17.0,"v":-4.0},{"s":"MIDFD","t":17.6,"v":-2},{"s":"MIDFD","t":18.2,"v":0.3},{"s":"MIDFD","t":19,"v":0.4},{"s":"MIDFD","t":20,"v":0.5},{"s":"MIDFD","t":21,"v":0.8},{"s":"MIDFD","t":22,"v":0.6},{"s":"MIDFD","t":23,"v":0},{"s":"MIDFD","t":23.8,"v":-0.5},{"s":"MIDFD","t":24.5,"v":-0.3},{"s":"MIDFD","t":25.5,"v":0.2},{"s":"MIDFD","t":26.8,"v":0.8},{"s":"MIDFD","t":28,"v":0.4},{"s":"MIDFD","t":29.5,"v":-0.5},{"s":"MIDFD","t":30.5,"v":-0.2},{"s":"MIDFD","t":31.5,"v":0.2},{"s":"MIDFD","t":32.5,"v":0.7},{"s":"MIDFD","t":33.5,"v":0.7},{"s":"MIDFD","t":35,"v":0},{"s":"MIDFD","t":36,"v":-0.5},{"s":"MIDFD","t":37,"v":-0.4},{"s":"MIDFD","t":38,"v":0.2},{"s":"MIDFD","t":38.9,"v":0.65},{"s":"MIDFD","t":39.9,"v":0.6},{"s":"MIDFD","t":40.2,"v":-5},{"s":"MIDFD","t":40.5,"v":-14},{"s":"MIDFD","t":40.8,"v":-22.3},{"s":"MIDFD","t":41.2,"v":-13},{"s":"MIDFD","t":41.8,"v":-2},{"s":"MIDFD","t":42.5,"v":6.4},{"s":"MIDFD","t":43.0,"v":2},{"s":"MIDFD","t":43.3,"v":-0.5},{"s":"MIDFD","t":43.9,"v":0.3},{"s":"MIDFD","t":45,"v":0.1},{"s":"MIDFD","t":50,"v":0},
{"s":"ADFD","t":0,"v":0},{"s":"ADFD","t":2,"v":-0.8},{"s":"ADFD","t":4,"v":-1.6},{"s":"ADFD","t":4.95,"v":-2.0},{"s":"ADFD","t":5.05,"v":3},{"s":"ADFD","t":5.15,"v":8.5},{"s":"ADFD","t":5.3,"v":6},{"s":"ADFD","t":5.7,"v":-3},{"s":"ADFD","t":6.1,"v":-9},{"s":"ADFD","t":6.6,"v":-12.3},{"s":"ADFD","t":7.1,"v":-9},{"s":"ADFD","t":7.8,"v":0},{"s":"ADFD","t":8.5,"v":2.0},{"s":"ADFD","t":9.6,"v":2.6},{"s":"ADFD","t":10.6,"v":1.8},{"s":"ADFD","t":11.6,"v":0.5},{"s":"ADFD","t":12.5,"v":0},{"s":"ADFD","t":14.95,"v":-0.2},{"s":"ADFD","t":15.3,"v":1},{"s":"ADFD","t":15.8,"v":5.0},{"s":"ADFD","t":16.4,"v":8.4},{"s":"ADFD","t":16.9,"v":6.5},{"s":"ADFD","t":17.5,"v":1.0},{"s":"ADFD","t":18.1,"v":-5},{"s":"ADFD","t":18.8,"v":-9.4},{"s":"ADFD","t":19.6,"v":-6.9},{"s":"ADFD","t":20.4,"v":0.25},{"s":"ADFD","t":21.2,"v":7.2},{"s":"ADFD","t":22.0,"v":9.9},{"s":"ADFD","t":22.78,"v":7.0},{"s":"ADFD","t":23.55,"v":0.05},{"s":"ADFD","t":24.33,"v":-7.0},{"s":"ADFD","t":25.1,"v":-9.8},{"s":"ADFD","t":25.88,"v":-7.0},{"s":"ADFD","t":26.65,"v":0.05},{"s":"ADFD","t":27.43,"v":7.0},{"s":"ADFD","t":28.2,"v":9.9},{"s":"ADFD","t":28.99,"v":7.0},{"s":"ADFD","t":29.78,"v":0.05},{"s":"ADFD","t":30.56,"v":-7.0},{"s":"ADFD","t":31.35,"v":-9.8},{"s":"ADFD","t":32.14,"v":-7.0},{"s":"ADFD","t":32.93,"v":0.05},{"s":"ADFD","t":33.71,"v":7.0},{"s":"ADFD","t":34.5,"v":9.9},{"s":"ADFD","t":35.26,"v":7.0},{"s":"ADFD","t":36.03,"v":0},{"s":"ADFD","t":36.79,"v":-7.0},{"s":"ADFD","t":37.55,"v":-9.9},{"s":"ADFD","t":38.2,"v":-7.5},{"s":"ADFD","t":38.9,"v":-1.5},{"s":"ADFD","t":39.5,"v":4.5},{"s":"ADFD","t":39.95,"v":7.4},{"s":"ADFD","t":40.3,"v":1.4},{"s":"ADFD","t":40.8,"v":-6},{"s":"ADFD","t":41.4,"v":-9.9},{"s":"ADFD","t":41.9,"v":-8},{"s":"ADFD","t":42.6,"v":-2.5},{"s":"ADFD","t":43.3,"v":1.5},{"s":"ADFD","t":43.9,"v":2.9},{"s":"ADFD","t":44.8,"v":2.0},{"s":"ADFD","t":46,"v":0.5},{"s":"ADFD","t":47.5,"v":0},{"s":"ADFD","t":50,"v":0}
],
"d": [
{"s":"DFD","t":0,"v":0},{"s":"DFD","t":1.2,"v":-0.8},{"s":"DFD","t":2.4,"v":-1.6},{"s":"DFD","t":3.6,"v":-2.24},{"s":"DFD","t":4.95,"v":-2.24},{"s":"DFD","t":5.05,"v":1.7},{"s":"DFD","t":5.3,"v":0},{"s":"DFD","t":5.6,"v":-4},{"s":"DFD","t":6.1,"v":-8.5},{"s":"DFD","t":6.6,"v":-7},{"s":"DFD","t":7.2,"v":-3.5},{"s":"DFD","t":7.9,"v":0.5},{"s":"DFD","t":8.7,"v":2.5},{"s":"DFD","t":9.5,"v":2.0},{"s":"DFD","t":10.6,"v":0.5},{"s":"DFD","t":12.2,"v":-0.3},{"s":"DFD","t":14.95,"v":-0.1},{"s":"DFD","t":15.05,"v":5.1},{"s":"DFD","t":15.6,"v":5.0},{"s":"DFD","t":16.2,"v":2},{"s":"DFD","t":16.9,"v":-3.5},{"s":"DFD","t":17.8,"v":-7.6},{"s":"DFD","t":18.6,"v":-5.4},{"s":"DFD","t":19.4,"v":0.2},{"s":"DFD","t":20.2,"v":5.8},{"s":"DFD","t":21.0,"v":8.0},{"s":"DFD","t":21.8,"v":5.8},{"s":"DFD","t":22.6,"v":-0.1},{"s":"DFD","t":23.4,"v":-6.0},{"s":"DFD","t":24.2,"v":-8.2},{"s":"DFD","t":24.98,"v":-6.0},{"s":"DFD","t":25.75,"v":0},{"s":"DFD","t":26.53,"v":5.9},{"s":"DFD","t":27.3,"v":8.1},{"s":"DFD","t":28.1,"v":5.9},{"s":"DFD","t":28.9,"v":0},{"s":"DFD","t":29.7,"v":-5.9},{"s":"DFD","t":30.5,"v":-8.2},{"s":"DFD","t":31.28,"v":-5.9},{"s":"DFD","t":32.05,"v":0},{"s":"DFD","t":32.83,"v":5.9},{"s":"DFD","t":33.6,"v":8.1},{"s":"DFD","t":34.38,"v":5.9},{"s":"DFD","t":35.15,"v":0},{"s":"DFD","t":35.93,"v":-6.0},{"s":"DFD","t":36.7,"v":-8.2},{"s":"DFD","t":37.48,"v":-6.0},{"s":"DFD","t":38.25,"v":0},{"s":"DFD","t":39.03,"v":6.0},{"s":"DFD","t":39.8,"v":8.2},{"s":"DFD","t":39.98,"v":8.0},{"s":"DFD","t":40.03,"v":1.0},{"s":"DFD","t":40.4,"v":-4},{"s":"DFD","t":40.9,"v":-7.5},{"s":"DFD","t":41.4,"v":-6},{"s":"DFD","t":42.2,"v":-1.5},{"s":"DFD","t":43.0,"v":1.5},{"s":"DFD","t":43.9,"v":2.0},{"s":"DFD","t":44.8,"v":1.0},{"s":"DFD","t":46.2,"v":-0.85},{"s":"DFD","t":47.5,"v":-0.6},{"s":"DFD","t":49.4,"v":-0.1},{"s":"DFD","t":50,"v":0},
{"s":"MEDFD","t":0,"v":0},{"s":"MEDFD","t":1.5,"v":-1.5},{"s":"MEDFD","t":3,"v":-2.9},{"s":"MEDFD","t":4.4,"v":-4.3},{"s":"MEDFD","t":4.9,"v":-3.5},{"s":"MEDFD","t":5.0,"v":1.0},{"s":"MEDFD","t":5.2,"v":-1},{"s":"MEDFD","t":5.5,"v":-5},{"s":"MEDFD","t":6.0,"v":-9.8},{"s":"MEDFD","t":6.4,"v":-6},{"s":"MEDFD","t":6.9,"v":0},{"s":"MEDFD","t":7.3,"v":4},{"s":"MEDFD","t":7.6,"v":5.5},{"s":"MEDFD","t":8.2,"v":5.5},{"s":"MEDFD","t":8.8,"v":2.2},{"s":"MEDFD","t":14.95,"v":2.2},{"s":"MEDFD","t":15.0,"v":7.2},{"s":"MEDFD","t":15.2,"v":5.4},{"s":"MEDFD","t":15.6,"v":4},{"s":"MEDFD","t":16.2,"v":-1},{"s":"MEDFD","t":16.8,"v":-6.5},{"s":"MEDFD","t":17.4,"v":-9.3},{"s":"MEDFD","t":17.9,"v":-8},{"s":"MEDFD","t":18.5,"v":-4},{"s":"MEDFD","t":19.2,"v":0.5},{"s":"MEDFD","t":19.8,"v":4.2},{"s":"MEDFD","t":20.3,"v":6.5},{"s":"MEDFD","t":20.8,"v":7.5},{"s":"MEDFD","t":21.3,"v":6.8},{"s":"MEDFD","t":21.9,"v":3.5},{"s":"MEDFD","t":22.6,"v":-1.5},{"s":"MEDFD","t":23.3,"v":-5.5},{"s":"MEDFD","t":24.1,"v":-7.1},{"s":"MEDFD","t":24.6,"v":-6.2},{"s":"MEDFD","t":25.3,"v":-3},{"s":"MEDFD","t":26,"v":1.5},{"s":"MEDFD","t":26.6,"v":5},{"s":"MEDFD","t":27.1,"v":7.0},{"s":"MEDFD","t":27.6,"v":6.5},{"s":"MEDFD","t":28.2,"v":3.5},{"s":"MEDFD","t":28.9,"v":-1.5},{"s":"MEDFD","t":29.6,"v":-5.5},{"s":"MEDFD","t":30.4,"v":-7.1},{"s":"MEDFD","t":30.9,"v":-6.2},{"s":"MEDFD","t":31.6,"v":-3},{"s":"MEDFD","t":32.3,"v":1.5},{"s":"MEDFD","t":32.9,"v":5},{"s":"MEDFD","t":33.4,"v":7.0},{"s":"MEDFD","t":33.9,"v":6.5},{"s":"MEDFD","t":34.5,"v":3.5},{"s":"MEDFD","t":35.2,"v":-1.5},{"s":"MEDFD","t":35.9,"v":-5.5},{"s":"MEDFD","t":36.7,"v":-7.2},{"s":"MEDFD","t":37.2,"v":-6.2},{"s":"MEDFD","t":37.9,"v":-3},{"s":"MEDFD","t":38.6,"v":1.5},{"s":"MEDFD","t":39.2,"v":5},{"s":"MEDFD","t":39.8,"v":7.1},{"s":"MEDFD","t":39.98,"v":6.8},{"s":"MEDFD","t":40.03,"v":1.0},{"s":"MEDFD","t":40.4,"v":-4.5},{"s":"MEDFD","t":40.9,"v":-9.5},{"s":"MEDFD","t":41.2,"v":-7},{"s":"MEDFD","t":41.6,"v":-1},{"s":"MEDFD","t":42.0,"v":3.5},{"s":"MEDFD","t":42.4,"v":5.0},{"s":"MEDFD","t":42.9,"v":3.5},{"s":"MEDFD","t":43.5,"v":1.5},{"s":"MEDFD","t":44.0,"v":0.5},{"s":"MEDFD","t":45.0,"v":1.0},{"s":"MEDFD","t":45.8,"v":1.2},{"s":"MEDFD","t":50,"v":1.3},
{"s":"EDFD","t":0,"v":0},{"s":"EDFD","t":1.5,"v":-1.5},{"s":"EDFD","t":3,"v":-2.9},{"s":"EDFD","t":4.4,"v":-4.3},{"s":"EDFD","t":4.9,"v":-3.5},{"s":"EDFD","t":5.0,"v":1.0},{"s":"EDFD","t":5.2,"v":-1},{"s":"EDFD","t":5.5,"v":-5},{"s":"EDFD","t":6.0,"v":-9.8},{"s":"EDFD","t":6.4,"v":-6},{"s":"EDFD","t":6.9,"v":0},{"s":"EDFD","t":7.3,"v":4},{"s":"EDFD","t":7.6,"v":5.5},{"s":"EDFD","t":8.2,"v":5.5},{"s":"EDFD","t":8.8,"v":2.2},{"s":"EDFD","t":14.95,"v":2.2},{"s":"EDFD","t":15.0,"v":7.2},{"s":"EDFD","t":15.2,"v":5.4},{"s":"EDFD","t":15.6,"v":4},{"s":"EDFD","t":16.2,"v":-1},{"s":"EDFD","t":16.8,"v":-6.5},{"s":"EDFD","t":17.4,"v":-9.3},{"s":"EDFD","t":17.9,"v":-8},{"s":"EDFD","t":18.5,"v":-4},{"s":"EDFD","t":19.2,"v":0.5},{"s":"EDFD","t":19.8,"v":4.2},{"s":"EDFD","t":20.3,"v":6.5},{"s":"EDFD","t":20.8,"v":7.5},{"s":"EDFD","t":21.3,"v":6.8},{"s":"EDFD","t":21.9,"v":3.5},{"s":"EDFD","t":22.6,"v":-1.5},{"s":"EDFD","t":23.3,"v":-5.5},{"s":"EDFD","t":24.1,"v":-7.1},{"s":"EDFD","t":24.6,"v":-6.2},{"s":"EDFD","t":25.3,"v":-3},{"s":"EDFD","t":26,"v":1.5},{"s":"EDFD","t":26.6,"v":5},{"s":"EDFD","t":27.1,"v":7.0},{"s":"EDFD","t":27.6,"v":6.5},{"s":"EDFD","t":28.2,"v":3.5},{"s":"EDFD","t":28.9,"v":-1.5},{"s":"EDFD","t":29.6,"v":-5.5},{"s":"EDFD","t":30.4,"v":-7.1},{"s":"EDFD","t":30.9,"v":-6.2},{"s":"EDFD","t":31.6,"v":-3},{"s":"EDFD","t":32.3,"v":1.5},{"s":"EDFD","t":32.9,"v":5},{"s":"EDFD","t":33.4,"v":7.0},{"s":"EDFD","t":33.9,"v":6.5},{"s":"EDFD","t":34.5,"v":3.5},{"s":"EDFD","t":35.2,"v":-1.5},{"s":"EDFD","t":35.9,"v":-5.5},{"s":"EDFD","t":36.7,"v":-7.2},{"s":"EDFD","t":37.2,"v":-6.2},{"s":"EDFD","t":37.9,"v":-3},{"s":"EDFD","t":38.6,"v":1.5},{"s":"EDFD","t":39.2,"v":5},{"s":"EDFD","t":39.8,"v":7.1},{"s":"EDFD","t":39.98,"v":6.8},{"s":"EDFD","t":40.03,"v":1.0},{"s":"EDFD","t":40.4,"v":-4},{"s":"EDFD","t":40.8,"v":-7.8},{"s":"EDFD","t":41.1,"v":-7},{"s":"EDFD","t":41.6,"v":-1},{"s":"EDFD","t":42.0,"v":3.5},{"s":"EDFD","t":42.4,"v":5.1},{"s":"EDFD","t":42.9,"v":3.5},{"s":"EDFD","t":43.5,"v":1.5},{"s":"EDFD","t":44.0,"v":0.5},{"s":"EDFD","t":45.0,"v":1.0},{"s":"EDFD","t":45.8,"v":1.2},{"s":"EDFD","t":50,"v":1.3},
{"s":"MIDFD","t":0,"v":0},{"s":"MIDFD","t":0.5,"v":-0.3},{"s":"MIDFD","t":1,"v":-0.2},{"s":"MIDFD","t":1.5,"v":-0.5},{"s":"MIDFD","t":2,"v":-0.3},{"s":"MIDFD","t":2.5,"v":-0.4},{"s":"MIDFD","t":3,"v":-0.25},{"s":"MIDFD","t":3.5,"v":-0.5},{"s":"MIDFD","t":4,"v":-0.3},{"s":"MIDFD","t":4.5,"v":-0.4},{"s":"MIDFD","t":4.95,"v":-0.3},{"s":"MIDFD","t":5.0,"v":2.7},{"s":"MIDFD","t":5.3,"v":0},{"s":"MIDFD","t":5.7,"v":-5},{"s":"MIDFD","t":6.1,"v":-8.7},{"s":"MIDFD","t":6.5,"v":-3},{"s":"MIDFD","t":7.0,"v":3},{"s":"MIDFD","t":7.4,"v":6.2},{"s":"MIDFD","t":7.8,"v":2},{"s":"MIDFD","t":8.2,"v":-2.2},{"s":"MIDFD","t":8.8,"v":0.4},{"s":"MIDFD","t":9.5,"v":0.2},{"s":"MIDFD","t":10.5,"v":0.1},{"s":"MIDFD","t":12,"v":0.1},{"s":"MIDFD","t":13.5,"v":0.1},{"s":"MIDFD","t":14.95,"v":0.2},{"s":"MIDFD","t":15.2,"v":6},{"s":"MIDFD","t":15.5,"v":10},{"s":"MIDFD","t":15.9,"v":3},{"s":"MIDFD","t":16.4,"v":-5},{"s":"MIDFD","t":16.8,"v":-9},{"s":"MIDFD","t":17.3,"v":-5},{"s":"MIDFD","t":17.8,"v":0},{"s":"MIDFD","t":18.0,"v":0.3},{"s":"MIDFD","t":18.3,"v":-0.4},{"s":"MIDFD","t":18.8,"v":0.8},{"s":"MIDFD","t":19.2,"v":1.9},{"s":"MIDFD","t":20.2,"v":2.8},{"s":"MIDFD","t":20.9,"v":1.8},{"s":"MIDFD","t":21.6,"v":0.5},{"s":"MIDFD","t":22.5,"v":-1.3},{"s":"MIDFD","t":23.4,"v":-2.6},{"s":"MIDFD","t":24.0,"v":-1.8},{"s":"MIDFD","t":24.7,"v":0},{"s":"MIDFD","t":25.5,"v":1.5},{"s":"MIDFD","t":26.5,"v":2.7},{"s":"MIDFD","t":27.2,"v":1.8},{"s":"MIDFD","t":27.8,"v":0.5},{"s":"MIDFD","t":28.7,"v":-1.3},{"s":"MIDFD","t":29.6,"v":-2.7},{"s":"MIDFD","t":30.2,"v":-1.8},{"s":"MIDFD","t":30.9,"v":0},{"s":"MIDFD","t":31.8,"v":1.5},{"s":"MIDFD","t":32.8,"v":2.7},{"s":"MIDFD","t":33.4,"v":1.8},{"s":"MIDFD","t":34.0,"v":0.5},{"s":"MIDFD","t":34.9,"v":-1.3},{"s":"MIDFD","t":35.8,"v":-2.7},{"s":"MIDFD","t":36.4,"v":-1.8},{"s":"MIDFD","t":37.1,"v":0},{"s":"MIDFD","t":38.0,"v":1.4},{"s":"MIDFD","t":39.2,"v":2.6},{"s":"MIDFD","t":40.0,"v":1.1},{"s":"MIDFD","t":40.3,"v":-5},{"s":"MIDFD","t":40.8,"v":-13.9},{"s":"MIDFD","t":41.3,"v":-5},{"s":"MIDFD","t":41.9,"v":3},{"s":"MIDFD","t":42.4,"v":5.7},{"s":"MIDFD","t":42.8,"v":1},{"s":"MIDFD","t":43.4,"v":-3.8},{"s":"MIDFD","t":43.8,"v":0.2},{"s":"MIDFD","t":44.2,"v":-0.7},{"s":"MIDFD","t":45,"v":-0.3},{"s":"MIDFD","t":46,"v":-0.4},{"s":"MIDFD","t":47,"v":-0.2},{"s":"MIDFD","t":48,"v":-0.3},{"s":"MIDFD","t":49,"v":-0.1},{"s":"MIDFD","t":50,"v":-0.2},
{"s":"ADFD","t":0,"v":0},{"s":"ADFD","t":1.3,"v":-0.9},{"s":"ADFD","t":2.6,"v":-1.8},{"s":"ADFD","t":3.8,"v":-2.5},{"s":"ADFD","t":4.95,"v":-2.4},{"s":"ADFD","t":5.05,"v":1.4},{"s":"ADFD","t":5.3,"v":0},{"s":"ADFD","t":5.7,"v":-3},{"s":"ADFD","t":6.2,"v":-5.6},{"s":"ADFD","t":6.8,"v":-4},{"s":"ADFD","t":7.6,"v":-1},{"s":"ADFD","t":8.4,"v":1.2},{"s":"ADFD","t":9.2,"v":1.8},{"s":"ADFD","t":10.2,"v":1.2},{"s":"ADFD","t":11.4,"v":0},{"s":"ADFD","t":13,"v":-0.2},{"s":"ADFD","t":14.95,"v":-0.1},{"s":"ADFD","t":15.05,"v":4.8},{"s":"ADFD","t":15.7,"v":4.6},{"s":"ADFD","t":16.3,"v":1.5},{"s":"ADFD","t":17.1,"v":-4},{"s":"ADFD","t":18.0,"v":-7.9},{"s":"ADFD","t":18.79,"v":-5.6},{"s":"ADFD","t":19.58,"v":0.15},{"s":"ADFD","t":20.36,"v":5.9},{"s":"ADFD","t":21.15,"v":8.2},{"s":"ADFD","t":21.95,"v":5.9},{"s":"ADFD","t":22.75,"v":-0.1},{"s":"ADFD","t":23.55,"v":-6.1},{"s":"ADFD","t":24.35,"v":-8.4},{"s":"ADFD","t":25.13,"v":-6.1},{"s":"ADFD","t":25.9,"v":-0.2},{"s":"ADFD","t":26.68,"v":5.7},{"s":"ADFD","t":27.45,"v":8.0},{"s":"ADFD","t":28.25,"v":5.7},{"s":"ADFD","t":29.05,"v":-0.2},{"s":"ADFD","t":29.85,"v":-6.1},{"s":"ADFD","t":30.65,"v":-8.4},{"s":"ADFD","t":31.43,"v":-6.1},{"s":"ADFD","t":32.2,"v":-0.2},{"s":"ADFD","t":32.98,"v":5.7},{"s":"ADFD","t":33.75,"v":8.0},{"s":"ADFD","t":34.54,"v":5.7},{"s":"ADFD","t":35.33,"v":-0.2},{"s":"ADFD","t":36.11,"v":-6.1},{"s":"ADFD","t":36.9,"v":-8.4},{"s":"ADFD","t":37.68,"v":-6.1},{"s":"ADFD","t":38.45,"v":0},{"s":"ADFD","t":39.2,"v":5.8},{"s":"ADFD","t":39.9,"v":8.0},{"s":"ADFD","t":40.03,"v":1.0},{"s":"ADFD","t":40.5,"v":-2.5},{"s":"ADFD","t":41.2,"v":-4.4},{"s":"ADFD","t":41.8,"v":-3},{"s":"ADFD","t":42.5,"v":-0.5},{"s":"ADFD","t":43.2,"v":1.1},{"s":"ADFD","t":44.2,"v":0.8},{"s":"ADFD","t":45.5,"v":0.3},{"s":"ADFD","t":47,"v":0},{"s":"ADFD","t":50,"v":0}
]
},
"concat": [
{
 "width": 422, "height": 186,
 "data": {"name": "a"},
 "title": {"text": "(a) Estimation error of the function.", "dx": -3},
 "encoding": {
  "x": {"field": "t", "type": "quantitative", "scale": {"domain": [0, 50], "nice": false}, "axis": {"values": [0, 10, 20, 30, 40, 50], "title": "Time [s]"}},
  "y": {"field": "v", "type": "quantitative", "scale": {"domain": [-3, 8], "nice": false, "zero": false}, "axis": {"values": [-2, 0, 2, 4, 6, 8], "title": "σ₀,ₖ"}},
  "color": {"field": "s", "type": "nominal", "scale": {"domain": ["DFD", "MEDFD", "EDFD", "ADFD", "MIDFD"], "range": ["#ff0000", "#00ff00", "#ff00ff", "#ffff00", "#0000ff"]}, "legend": {"title": null, "symbolStrokeWidth": 1.2, "encode": {"symbols": {"update": {"strokeWidth": {"value": 1.2}}}}}}
 },
 "layer": [
  {"transform": [{"filter": "datum.s == 'DFD'"}], "mark": {"type": "line", "interpolate": "monotone", "clip": true, "strokeWidth": 3.2}},
  {"transform": [{"filter": "datum.s == 'MEDFD'"}], "mark": {"type": "line", "interpolate": "monotone", "clip": true, "strokeWidth": 1.2}},
  {"transform": [{"filter": "datum.s == 'EDFD'"}], "mark": {"type": "line", "interpolate": "monotone", "clip": true, "strokeWidth": 1.8}},
  {"transform": [{"filter": "datum.s == 'MIDFD'"}], "mark": {"type": "line", "interpolate": "monotone", "clip": true, "strokeWidth": 1.4}},
  {"transform": [{"filter": "datum.s == 'ADFD'"}], "mark": {"type": "line", "interpolate": "monotone", "clip": true, "strokeWidth": 1.2}}
 ]
},
{
 "width": 411, "height": 186,
 "data": {"name": "b"},
 "title": {"text": "(b) Estimation error of the first derivative.", "dx": -12.5},
 "encoding": {
  "x": {"field": "t", "type": "quantitative", "scale": {"domain": [0, 50], "nice": false}, "axis": {"values": [0, 10, 20, 30, 40, 50], "title": "Time [s]"}},
  "y": {"field": "v", "type": "quantitative", "scale": {"domain": [-10, 32], "nice": false, "zero": false}, "axis": {"values": [-10, 0, 10, 20, 30], "title": "σ₁,ₖ"}},
  "color": {"field": "s", "type": "nominal", "scale": {"domain": ["DFD", "MEDFD", "EDFD", "ADFD", "MIDFD"], "range": ["#ff0000", "#00ff00", "#ff00ff", "#ffff00", "#0000ff"]}, "legend": {"title": null, "symbolStrokeWidth": 1.2, "encode": {"symbols": {"update": {"strokeWidth": {"value": 1.2}}}}}}
 },
 "layer": [
  {"transform": [{"filter": "datum.s == 'DFD'"}], "mark": {"type": "line", "interpolate": "monotone", "clip": true, "strokeWidth": 2.2}},
  {"transform": [{"filter": "datum.s == 'MEDFD'"}], "mark": {"type": "line", "interpolate": "monotone", "clip": true, "strokeWidth": 1.2}},
  {"transform": [{"filter": "datum.s == 'EDFD'"}], "mark": {"type": "line", "interpolate": "monotone", "clip": true, "strokeWidth": 1.6}},
  {"transform": [{"filter": "datum.s == 'MIDFD'"}], "mark": {"type": "line", "interpolate": "monotone", "clip": true, "strokeWidth": 1.4}},
  {"transform": [{"filter": "datum.s == 'ADFD'"}], "mark": {"type": "line", "interpolate": "monotone", "clip": true, "strokeWidth": 1.2}}
 ]
},
{
 "width": 420, "height": 185,
 "data": {"name": "c"},
 "title": {"text": "(c) Estimation error of the second derivative.", "dx": -13},
 "encoding": {
  "x": {"field": "t", "type": "quantitative", "scale": {"domain": [0, 50], "nice": false}, "axis": {"values": [0, 10, 20, 30, 40, 50], "title": "Time [s]"}},
  "y": {"field": "v", "type": "quantitative", "scale": {"domain": [-25, 30], "nice": false, "zero": false}, "axis": {"values": [-20, 0, 20], "title": "σ₂,ₖ"}},
  "color": {"field": "s", "type": "nominal", "scale": {"domain": ["DFD", "MEDFD", "EDFD", "ADFD", "MIDFD"], "range": ["#ff0000", "#00ff00", "#ff00ff", "#ffff00", "#0000ff"]}, "legend": {"title": null, "symbolStrokeWidth": 1.2, "encode": {"symbols": {"update": {"strokeWidth": {"value": 1.2}}}}}}
 },
 "layer": [
  {"transform": [{"filter": "datum.s == 'DFD'"}], "mark": {"type": "line", "interpolate": "monotone", "clip": true, "strokeWidth": 2.2}},
  {"transform": [{"filter": "datum.s == 'MEDFD'"}], "mark": {"type": "line", "interpolate": "monotone", "clip": true, "strokeWidth": 1.2}},
  {"transform": [{"filter": "datum.s == 'EDFD'"}], "mark": {"type": "line", "interpolate": "monotone", "clip": true, "strokeWidth": 2.2}},
  {"transform": [{"filter": "datum.s == 'MIDFD'"}], "mark": {"type": "line", "interpolate": "monotone", "clip": true, "strokeWidth": 2.0}},
  {"transform": [{"filter": "datum.s == 'ADFD'"}], "mark": {"type": "line", "interpolate": "monotone", "clip": true, "strokeWidth": 1.3}}
 ]
},
{
 "width": 411, "height": 185,
 "data": {"name": "d"},
 "title": {"text": "(d) Estimation error of the third derivative.", "dx": -19},
 "encoding": {
  "x": {"field": "t", "type": "quantitative", "scale": {"domain": [0, 50], "nice": false}, "axis": {"values": [0, 10, 20, 30, 40, 50], "title": "Time [s]"}},
  "y": {"field": "v", "type": "quantitative", "scale": {"domain": [-14, 20], "nice": false, "zero": false}, "axis": {"values": [-10, 0, 10, 20], "title": "σ₃,ₖ"}},
  "color": {"field": "s", "type": "nominal", "scale": {"domain": ["DFD", "MEDFD", "EDFD", "ADFD", "MIDFD"], "range": ["#ff0000", "#00ff00", "#ff00ff", "#ffff00", "#0000ff"]}, "legend": {"title": null, "symbolStrokeWidth": 1.2, "encode": {"symbols": {"update": {"strokeWidth": {"value": 1.2}}}}}}
 },
 "layer": [
  {"transform": [{"filter": "datum.s == 'DFD'"}], "mark": {"type": "line", "interpolate": "monotone", "clip": true, "strokeWidth": 2.2}},
  {"transform": [{"filter": "datum.s == 'MEDFD'"}], "mark": {"type": "line", "interpolate": "monotone", "clip": true, "strokeWidth": 1.2}},
  {"transform": [{"filter": "datum.s == 'EDFD'"}], "mark": {"type": "line", "interpolate": "monotone", "clip": true, "strokeWidth": 2.2}},
  {"transform": [{"filter": "datum.s == 'MIDFD'"}], "mark": {"type": "line", "interpolate": "monotone", "clip": true, "strokeWidth": 2.4}},
  {"transform": [{"filter": "datum.s == 'ADFD'"}], "mark": {"type": "line", "interpolate": "monotone", "clip": true, "strokeWidth": 1.3}}
 ]
}
],
"columns": 2,
"spacing": {"row": 132, "column": 133},
"bounds": "flush",
"resolve": {"scale": {"color": "independent", "x": "independent", "y": "independent"}, "legend": {"color": "independent"}}
}
